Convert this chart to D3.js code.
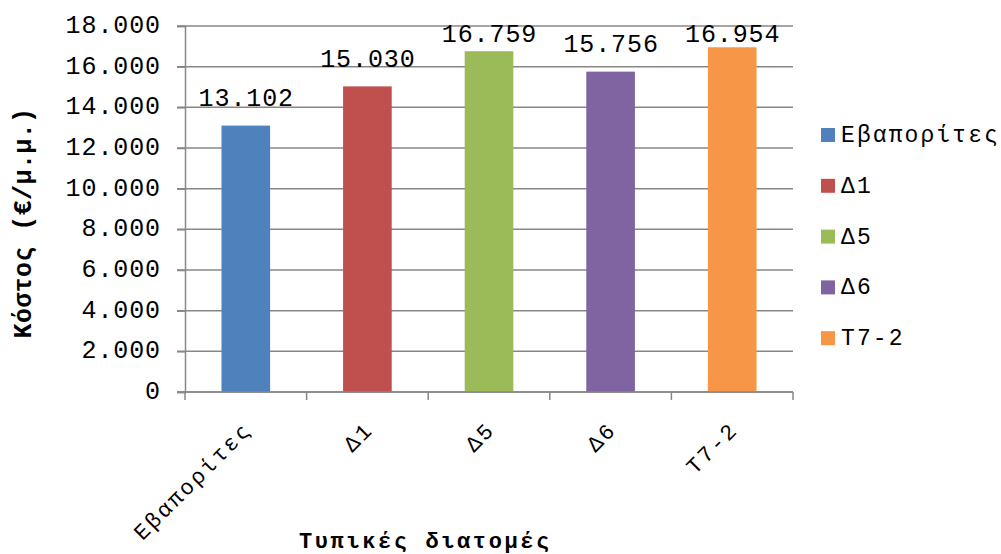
<!DOCTYPE html>
<html>
<head>
<meta charset="utf-8">
<script src="https://cdn.jsdelivr.net/npm/d3@7"></script>
<style>
  html, body { margin: 0; padding: 0; background: #fff; }
  svg { display: block; }
  text { font-family: "Liberation Mono", "Courier New", monospace; fill: #000; }
</style>
</head>
<body>
<svg id="chart" width="1001" height="554"></svg>
<script>
// Cost per linear metre for each typical cross-section
const categories = ["Εβαπορίτες", "Δ1", "Δ5", "Δ6", "T7-2"];
const values = [13102, 15030, 16759, 15756, 16954];
const colors = ["#4F81BD", "#C0504D", "#9BBB59", "#8064A2", "#F79646"];
const yTicks = [0, 2000, 4000, 6000, 8000, 10000, 12000, 14000, 16000, 18000];
const yTitle = "Κόστος (€/μ.μ.)";
const xTitle = "Τυπικές διατομές";

const svg = d3.select("#chart");
const plot = { left: 185, right: 793, top: 26, bottom: 392 };

// Greek number style: dot as thousands separator
const gr = d3.formatLocale({ decimal: ",", thousands: ".", grouping: [3], currency: ["", "€"] });
const fmt = gr.format(",d");

const x = d3.scaleBand()
  .domain(categories)
  .range([plot.left, plot.right])
  .paddingInner(0.6)
  .paddingOuter(0.3);

const y = d3.scaleLinear()
  .domain([0, 18000])
  .range([plot.bottom, plot.top]);

const gridColor = "#878787";

// horizontal gridlines (they also act as the left tick marks)
svg.append("g")
  .selectAll("line")
  .data(yTicks)
  .join("line")
  .attr("x1", plot.left - 8)
  .attr("x2", plot.right)
  .attr("y1", d => y(d))
  .attr("y2", d => y(d))
  .attr("stroke", gridColor)
  .attr("stroke-width", 1.5);

// value axis with labels
const yAxis = svg.append("g")
  .attr("transform", `translate(${plot.left},0)`)
  .call(d3.axisLeft(y).tickValues(yTicks).tickFormat(fmt).tickSize(8).tickPadding(0));
yAxis.select(".domain").attr("stroke", gridColor).attr("stroke-width", 1.5);
yAxis.selectAll(".tick line").attr("stroke", gridColor).attr("stroke-width", 1.5);
yAxis.selectAll(".tick text")
  .attr("x", -24)
  .attr("dy", null)
  .attr("y", 6.5)
  .style("font-size", "25px")
  .style("letter-spacing", "0.9px")
  .attr("fill", "#000");

// bars
svg.append("g")
  .selectAll("rect")
  .data(categories)
  .join("rect")
  .attr("x", d => x(d))
  .attr("width", x.bandwidth())
  .attr("y", (d, i) => y(values[i]))
  .attr("height", (d, i) => y(0) - y(values[i]))
  .attr("fill", (d, i) => colors[i]);

// category axis: line plus tick marks at the band boundaries
const step = x.step();
const x0 = x.range()[0];
const bounds = d3.range(categories.length + 1).map(i => x0 + i * step);
svg.append("line")
  .attr("x1", plot.left - 8).attr("x2", plot.right)
  .attr("y1", y(0)).attr("y2", y(0))
  .attr("stroke", gridColor).attr("stroke-width", 1.5);
svg.append("g")
  .selectAll("line")
  .data(bounds)
  .join("line")
  .attr("x1", d => d).attr("x2", d => d)
  .attr("y1", y(0)).attr("y2", y(0) + 8)
  .attr("stroke", gridColor).attr("stroke-width", 1.5);

// rotated category labels
const xAxis = svg.append("g")
  .attr("transform", `translate(0,${y(0)})`)
  .call(d3.axisBottom(x).tickSize(0).tickPadding(0));
xAxis.select(".domain").remove();
xAxis.selectAll(".tick text")
  .attr("y", 0)
  .attr("dy", null)
  .attr("text-anchor", "end")
  .attr("transform", "translate(7,39) rotate(-45)")
  .style("font-size", "22px")
  .style("letter-spacing", "2.4px")
  .attr("fill", "#000");

// value labels above bars, kept inside the plot top
svg.append("g")
  .selectAll("text")
  .data(categories)
  .join("text")
  .attr("x", d => x(d) + x.bandwidth() / 2 + 0.5)
  .attr("y", (d, i) => Math.max(y(values[i]) - 19.5, plot.top + 16))
  .attr("text-anchor", "middle")
  .style("font-size", "25px")
  .style("letter-spacing", "0.9px")
  .text((d, i) => fmt(values[i]));

// axis titles
svg.append("text")
  .attr("x", 299)
  .attr("y", 548)
  .style("font-size", "22px")
  .style("font-weight", "bold")
  .style("letter-spacing", "2.6px")
  .text(xTitle);

svg.append("text")
  .attr("transform", "translate(31,223) rotate(-90)")
  .attr("text-anchor", "middle")
  .style("font-size", "25px")
  .style("font-weight", "bold")
  .style("letter-spacing", "0.4px")
  .text(yTitle);

// legend
const legend = svg.append("g")
  .selectAll("g")
  .data(categories)
  .join("g")
  .attr("transform", (d, i) => `translate(821,${135 + i * 50.8})`);
legend.append("rect")
  .attr("x", 0).attr("y", -7)
  .attr("width", 14).attr("height", 14)
  .attr("fill", (d, i) => colors[i]);
legend.append("text")
  .attr("x", 20)
  .attr("y", 7)
  .style("font-size", "23px")
  .style("letter-spacing", "2.1px")
  .text(d => d);
</script>
</body>
</html>
